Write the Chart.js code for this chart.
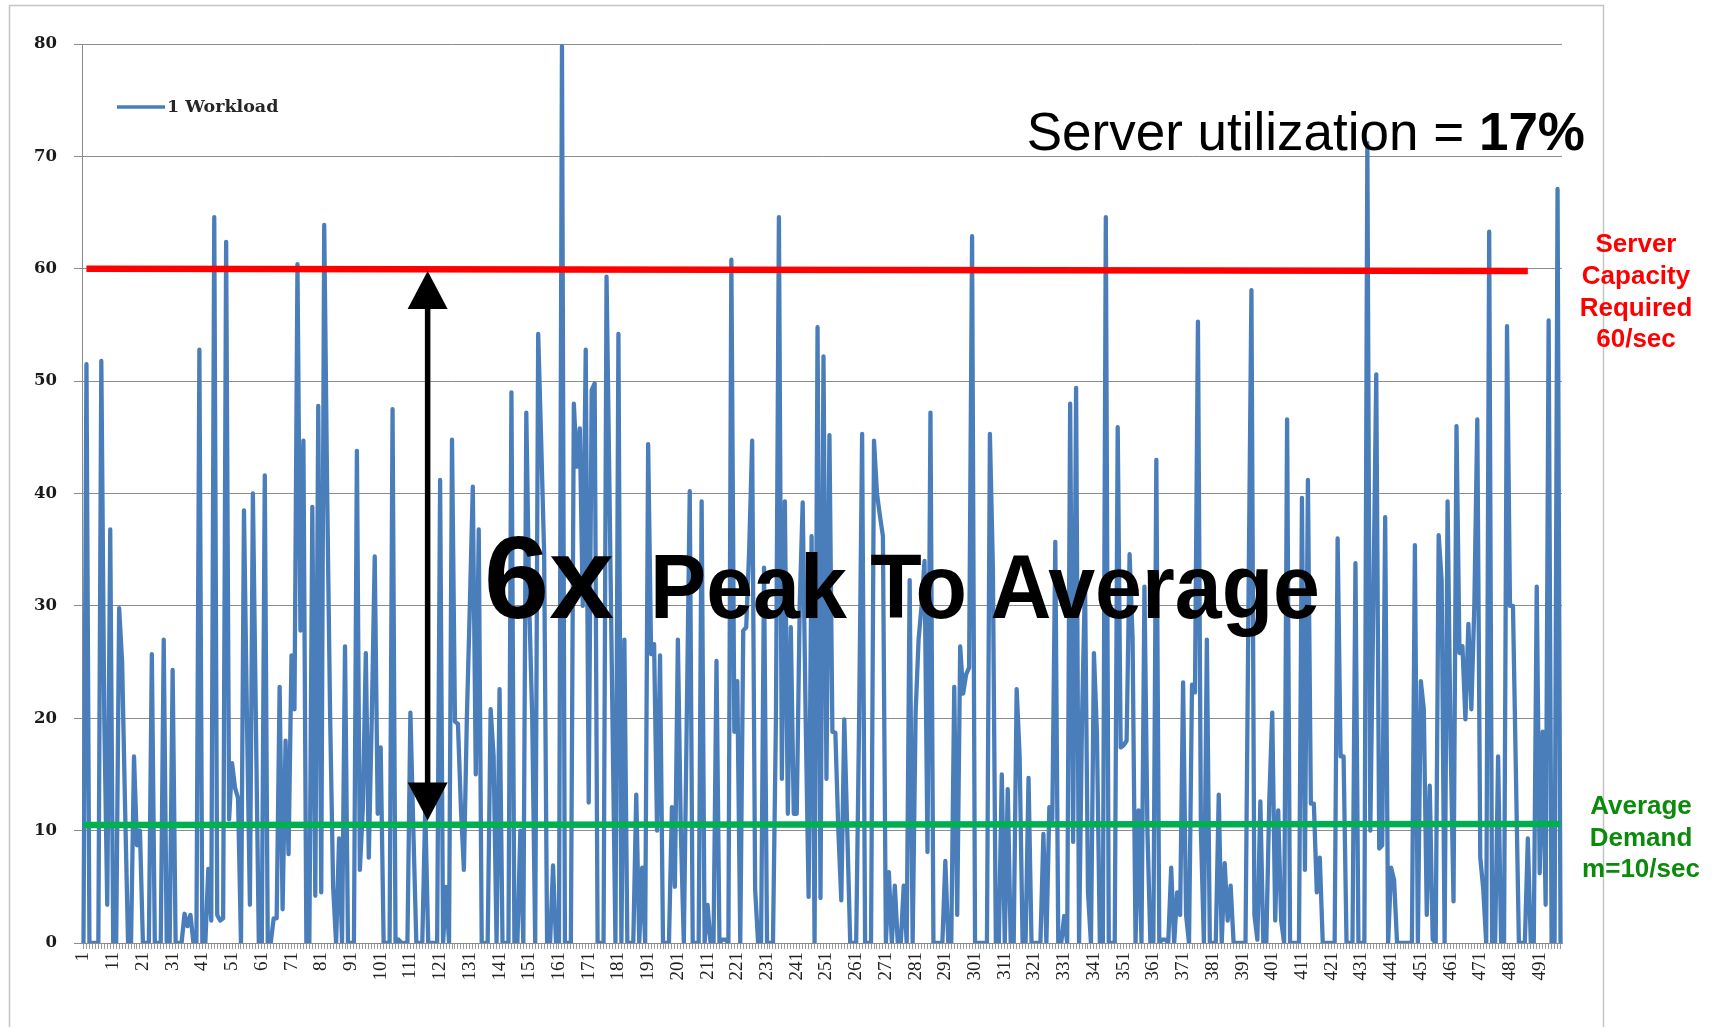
<!DOCTYPE html>
<html>
<head>
<meta charset="utf-8">
<script src="https://cdn.jsdelivr.net/npm/chart.js@4.4.1/dist/chart.umd.min.js"></script>
<style>
  html, body { margin: 0; padding: 0; background: #fff; }
  canvas { display: block; }
</style>
</head>
<body>
<canvas id="workloadChart" width="1715" height="1027"></canvas>
<script>
// requests per second, one value per interval
const workload = [
  0, 51.5, 0, 0, 0, 0, 51.8, 20, 3.4, 36.8,
  0, 0, 29.8, 25, 12, 0, 0, 16.6, 8.7, 10,
  0, 0, 0, 25.7, 0, 0, 0, 27, 0, 0,
  24.3, 0, 0, 0, 2.6, 1.5, 2.5, 0, 0, 52.8,
  0, 0, 6.6, 2, 64.6, 2.5, 2, 2.2, 62.4, 11,
  16, 13.8, 12.9, 0, 38.5, 20, 3.4, 40, 20, 0,
  0, 41.6, 0, 0, 2.2, 2.2, 22.8, 3, 18, 7.9,
  25.6, 20.8, 60.4, 27.8, 44.7, 0, 0, 38.8, 4.2, 47.8,
  4.5, 63.9, 40, 20, 5, 0, 9.3, 0, 26.4, 0,
  0, 0, 43.8, 6.5, 12, 25.8, 7.6, 20, 34.4, 11.5,
  17.4, 0, 0, 0, 47.5, 0, 0.3, 0, 0, 0,
  20.5, 10, 0, 0, 0, 12, 0, 0, 0, 0,
  41.2, 0, 5, 0, 44.8, 19.7, 19.5, 12, 6.5, 20,
  30, 40.6, 15, 36.8, 0, 0, 0, 20.8, 16.6, 0,
  22.6, 0, 0, 0, 49, 0, 0, 10, 0, 47.2,
  30, 20, 0, 54.2, 44.7, 34.7, 0, 0, 6.9, 0,
  0, 79.8, 0, 0, 0, 48, 42.4, 45.8, 30, 52.8,
  12.5, 49.2, 49.8, 0, 0, 0, 59.3, 40, 20, 0,
  54.2, 0, 27, 0, 0, 0, 13.2, 0, 6.7, 0,
  44.4, 25.7, 26.6, 10, 25.6, 0, 0, 0, 12.1, 5,
  27, 10, 0, 20, 40.2, 0, 0, 0, 39.3, 0,
  3.4, 0, 0, 25.1, 0, 0.3, 0.3, 0, 60.8, 18.8,
  23.3, 0, 27.8, 28.1, 35, 44.7, 4.8, 0, 0, 33.4,
  0, 0, 0, 20, 64.6, 14.6, 39.3, 11.5, 28.1, 11.5,
  11.5, 30, 39.2, 20, 4.1, 36.2, 0, 54.8, 4, 52.2,
  14.6, 45.2, 18.8, 18.7, 10, 3.8, 19.9, 10, 0, 0,
  0, 20, 45.3, 0, 0, 0, 44.7, 40, 38, 36.2,
  0, 6.3, 0, 5.1, 0, 0, 5.1, 0, 32.3, 0,
  20.5, 27, 30, 34, 8.1, 47.2, 0, 0, 0, 0,
  7.3, 0, 0, 22.8, 2.5, 26.4, 22.2, 23.9, 24.5, 62.9,
  0, 0, 0, 0, 0, 45.3, 33.4, 0, 0, 15,
  0, 13.7, 0, 0, 22.6, 16.6, 0, 0, 14.7, 0,
  0, 0, 0, 9.7, 0, 12.1, 11, 35.7, 0, 0,
  2.4, 0, 48, 9, 49.4, 0, 20, 32.3, 4.5, 0,
  25.8, 18.8, 0, 0, 64.6, 0, 0, 0, 45.9, 17.4,
  17.6, 18, 34.6, 27.2, 0, 11.8, 0, 31.7, 10, 0,
  0, 43, 0, 0.3, 0.3, 0, 6.7, 0, 4.5, 2.5,
  23.2, 2.5, 0, 23, 22.3, 55.3, 10, 0, 27, 0,
  0, 0, 13.2, 0, 7.1, 2, 5.1, 0, 0, 0,
  0, 0, 30, 58.1, 2.5, 0.3, 12.6, 0, 0, 12.6,
  20.5, 2, 11.8, 2, 0, 46.6, 0, 0, 0, 0,
  39.6, 6.5, 41.2, 12.4, 12.4, 4.5, 7.6, 0, 0, 0,
  0, 0, 36, 16.6, 16.6, 0, 0, 0, 33.8, 0,
  0, 0, 71.2, 10, 30, 50.6, 8.4, 8.7, 37.9, 0,
  6.7, 5.6, 0, 0, 0, 0, 0, 0, 35.4, 0,
  23.3, 20.8, 2.5, 14, 0.3, 0, 36.3, 32.3, 0, 39.3,
  18, 3.7, 46, 25.8, 26.4, 19.9, 28.4, 20.8, 30, 46.6,
  7.6, 4.8, 0, 63.3, 0, 0, 16.6, 0, 0, 54.9,
  30, 30, 15, 0, 0, 0, 9.3, 0, 0, 31.7,
  6.2, 18.8, 3.4, 55.4, 0, 0, 67.1, 0
];

// x categories 1..n, labelled every 10th
const categories = workload.map((v, i) => String(i + 1));
const labelEvery = 10;

// y axis ticks
const yTicks = [0, 10, 20, 30, 40, 50, 60, 70, 80];

// reference lines: [first interval, last interval] and their levels
const capacitySpan = [2, 487];
const capacityLevel = [60.0, 59.8];
const averageSpan = [1, 498];
const averageLevel = [10.5, 10.6];

// double arrow between the two levels
const arrowInterval = 116.8;
const arrowTop = 59.8;
const arrowBottom = 10.9;

const seriesName = '1 Workload';
const headline = 'Server utilization = ';
const headlineBold = '17%';
const capacityNote = ['Server', 'Capacity', 'Required', '60/sec'];
const averageNote = ['Average', 'Demand', 'm=10/sec'];

function levelLine(span, level) {
    return categories.map((c, i) => {
        if (i === span[0] - 1) return level[0];
        if (i === span[1] - 1) return level[1];
        return null;
    });
}

const overlay = {
    id: 'overlay',
    beforeDraw(chart) {
        const ctx = chart.ctx;
        ctx.save();
        ctx.fillStyle = '#fff';
        ctx.fillRect(0, 0, chart.width, chart.height);
        ctx.strokeStyle = '#c4c4c4';
        ctx.lineWidth = 1.5;
        ctx.beginPath();
        ctx.moveTo(9.5, chart.height + 5);
        ctx.lineTo(9.5, 5.5);
        ctx.lineTo(1603.5, 5.5);
        ctx.lineTo(1603.5, chart.height + 5);
        ctx.stroke();
        ctx.restore();
    },
    afterDatasetsDraw(chart) {
        const ctx = chart.ctx;
        const x = chart.scales.x;
        const y = chart.scales.y;
        ctx.save();

        // legend
        const ds = chart.data.datasets[0];
        ctx.strokeStyle = ds.borderColor;
        ctx.lineWidth = 3.5;
        ctx.beginPath();
        ctx.moveTo(117, 107);
        ctx.lineTo(165, 107);
        ctx.stroke();
        ctx.fillStyle = '#262626';
        ctx.font = 'bold 17.5px "DejaVu Serif"';
        ctx.textBaseline = 'middle';
        ctx.fillText(ds.label, 167, 107);

        // arrow
        const ax = x.getPixelForValue(arrowInterval - 1);
        const yTop = y.getPixelForValue(arrowTop);
        const yBot = y.getPixelForValue(arrowBottom);
        const headH = 38, headW = 20;
        ctx.strokeStyle = '#000';
        ctx.fillStyle = '#000';
        ctx.lineWidth = 5.5;
        ctx.beginPath();
        ctx.moveTo(ax, yTop + headH - 2);
        ctx.lineTo(ax, yBot - headH + 2);
        ctx.stroke();
        ctx.beginPath();
        ctx.moveTo(ax, yTop);
        ctx.lineTo(ax - headW, yTop + headH);
        ctx.lineTo(ax + headW, yTop + headH);
        ctx.closePath();
        ctx.fill();
        ctx.beginPath();
        ctx.moveTo(ax, yBot);
        ctx.lineTo(ax - headW, yBot - headH);
        ctx.lineTo(ax + headW, yBot - headH);
        ctx.closePath();
        ctx.fill();

        // big caption
        ctx.textBaseline = 'alphabetic';
        ctx.textAlign = 'left';
        ctx.font = 'bold 117px "Liberation Sans"';
        ctx.fillText('6x', 484, 618);
        ctx.font = 'bold 90px "Liberation Sans"';
        ctx.fillText('Peak To Average', 650, 618, 670);

        // headline
        ctx.font = 'bold 53px "Liberation Sans"';
        const wBold = ctx.measureText(headlineBold).width;
        ctx.textAlign = 'right';
        ctx.fillText(headlineBold, 1585, 150);
        ctx.font = '53px "Liberation Sans"';
        ctx.fillText(headline, 1585 - wBold, 150);

        // side notes
        ctx.textAlign = 'center';
        ctx.font = 'bold 26px "Liberation Sans"';
        ctx.fillStyle = '#ff0000';
        capacityNote.forEach((t, i) => ctx.fillText(t, 1636, 252 + i * 31.8));
        ctx.fillStyle = '#0b8a0b';
        averageNote.forEach((t, i) => ctx.fillText(t, 1641, 814 + i * 31.7));
        ctx.restore();
    }
};

new Chart(document.getElementById('workloadChart').getContext('2d'), {
    type: 'line',
    data: {
        labels: categories,
        datasets: [{
            label: seriesName,
            data: workload,
            borderColor: '#4a7ebb',
            borderWidth: 4.3,
            borderJoinStyle: 'round',
            pointRadius: 0,
            tension: 0,
            fill: false,
            order: 3
        }, {
            label: 'capacity',
            data: levelLine(capacitySpan, capacityLevel),
            borderColor: '#ff0000',
            borderWidth: 6.5,
            pointRadius: 0,
            spanGaps: true,
            order: 1
        }, {
            label: 'average',
            data: levelLine(averageSpan, averageLevel),
            borderColor: '#00b050',
            borderWidth: 6.5,
            pointRadius: 0,
            spanGaps: true,
            order: 1
        }]
    },
    options: {
        responsive: false,
        animation: false,
        devicePixelRatio: 1,
        layout: { padding: { left: 0, right: 153, top: 44, bottom: 0 } },
        plugins: {
            legend: { display: false },
            tooltip: { enabled: false }
        },
        scales: {
            x: {
                offset: true,
                afterFit: scale => { scale.height = 84; },
                grid: { drawOnChartArea: false, tickLength: 6, color: '#9a9a9a' },
                border: { color: '#8a8a8a' },
                ticks: {
                    autoSkip: false,
                    minRotation: 90,
                    maxRotation: 90,
                    padding: 3,
                    color: '#222',
                    font: { family: '"Liberation Serif"', size: 19 },
                    callback: (v, i) => (i % labelEvery === 0 ? categories[i] : '')
                }
            },
            y: {
                min: yTicks[0],
                max: yTicks[yTicks.length - 1],
                afterFit: scale => { scale.width = 82; },
                afterBuildTicks: scale => { scale.ticks = yTicks.map(v => ({ value: v })); },
                grid: { color: '#8c8c8c', tickLength: 8 },
                border: { color: '#8c8c8c' },
                ticks: {
                    padding: 17,
                    color: '#1a1a1a',
                    font: { family: '"DejaVu Serif"', size: 16.5, weight: 'bold' }
                }
            }
        }
    },
    plugins: [overlay]
});
</script>
</body>
</html>
